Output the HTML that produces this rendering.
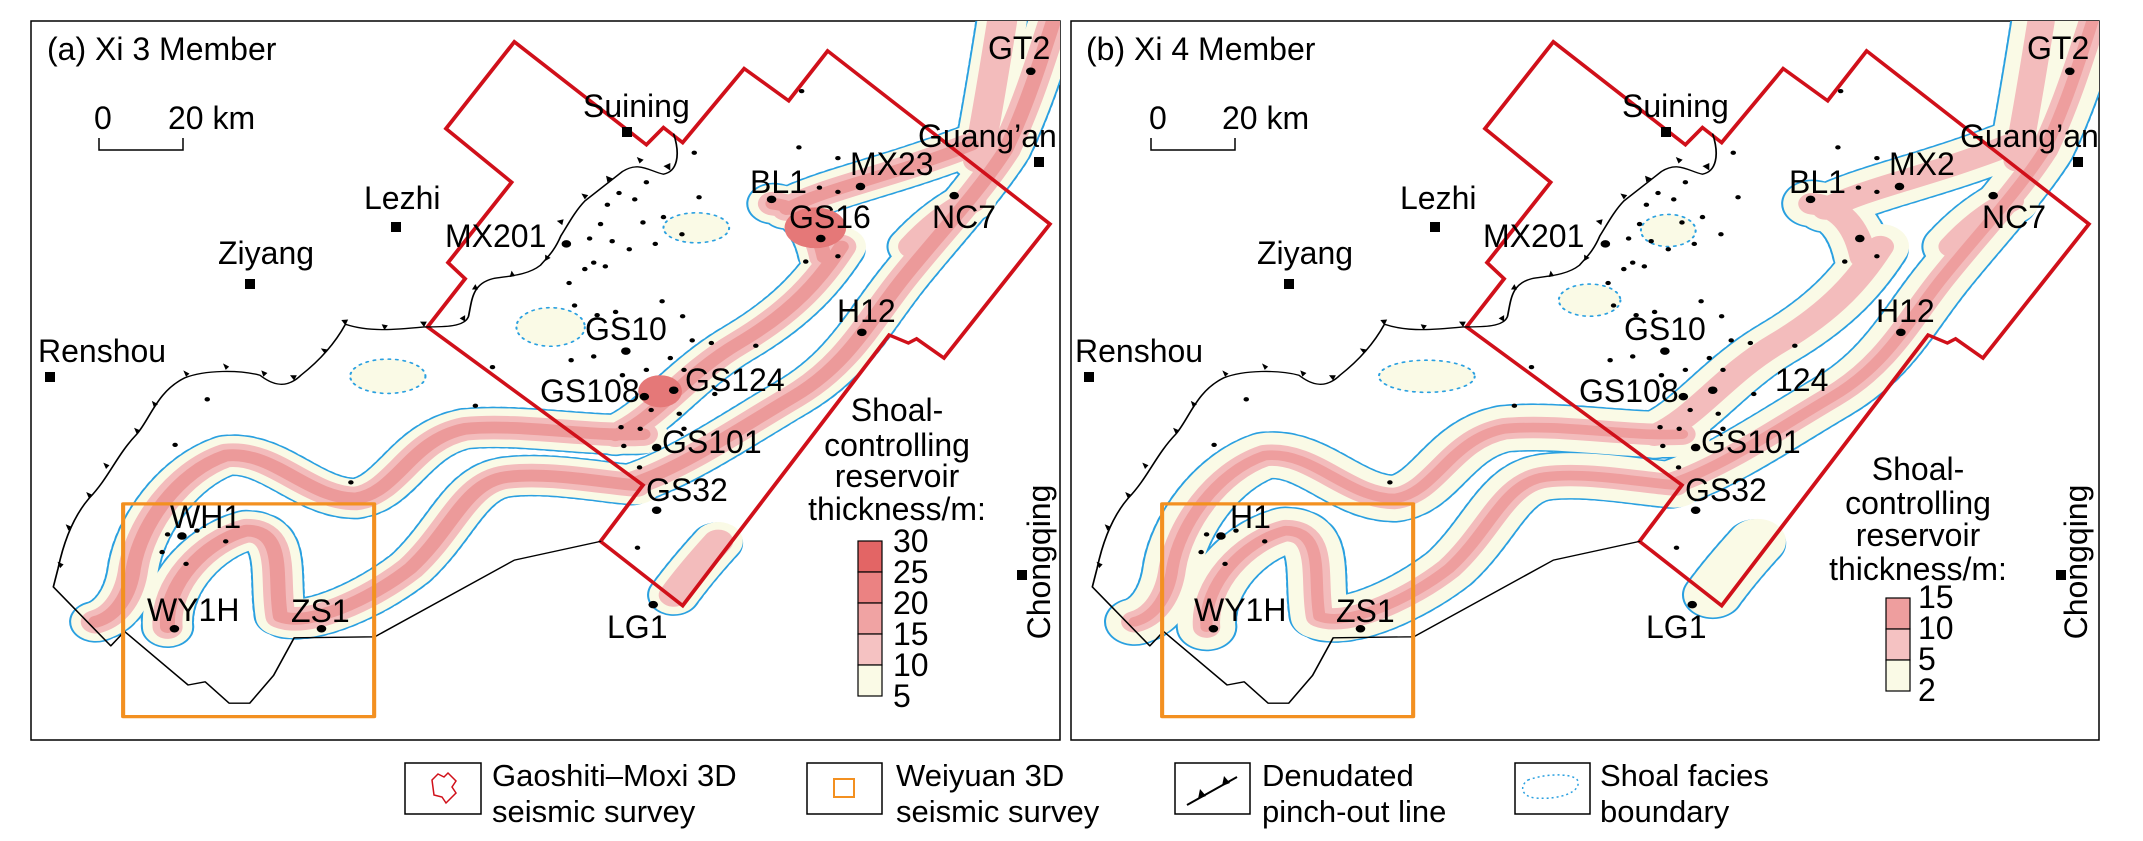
<!DOCTYPE html>
<html><head><meta charset="utf-8"><style>
html,body{margin:0;padding:0;background:#fff}
svg{display:block}
text{font-family:"Liberation Sans",Arial,sans-serif;fill:#000}
</style></head><body>
<svg width="2143" height="841" viewBox="0 0 2143 841" xmlns="http://www.w3.org/2000/svg">
<defs>
<clipPath id="ca"><rect x="31" y="21" width="1029" height="719"/></clipPath>
<clipPath id="cb"><rect x="1071" y="21" width="1028" height="719"/></clipPath>
<path id="pw1" d="M140,1160 C170,1150 190,1110 195,1060 C205,980 260,880 330,850 C400,840 450,930 520,930 C580,920 600,820 680,800 C760,790 860,815 940,810"/>
<path id="pg124" d="M900,812 C960,780 1000,700 1080,640 C1160,580 1200,520 1230,460"/>
<path id="pg16" d="M1130,380 C1170,385 1195,420 1205,480 M1150,390 C1210,350 1300,330 1420,270"/>
<path id="ph12" d="M930,900 C1000,870 1080,800 1160,740 C1240,680 1270,600 1320,520 C1370,440 1430,360 1470,280 C1500,200 1520,120 1540,40"/>
<path id="pgt" d="M1430,300 C1445,200 1455,120 1465,40"/>
<path id="pnc" d="M1335,460 C1360,425 1390,395 1420,375"/>
<path id="pw2" d="M245,1170 C240,1090 300,1010 360,990 C420,990 400,1080 410,1150 C450,1170 540,1120 600,1060 C660,990 680,900 740,890 C800,880 880,900 930,905"/>
<path id="plr" d="M985,1110 C1005,1075 1025,1045 1050,1010"/>
<g id="base">
<path d="M752,78 L945,270 L970,238 L998,266 L1088,128 L1153,188 L1210,95 L1535,418 L1380,668 L1340,632 L1328,640 L1300,625 L998,1130 L878,1010 L940,905 L625,610 L680,520 L655,490 L748,340 L652,240 Z" fill="none" stroke="#d0101a" stroke-width="6" stroke-linejoin="miter"/>
<path d="M985,250 C995,290 990,320 970,325 C950,320 935,300 910,320 C890,340 870,360 855,375 C840,395 830,420 820,440 C810,470 800,480 790,495 C770,515 740,515 720,520 C690,530 690,560 685,590 C680,610 650,610 620,610 C580,615 540,620 505,605 C490,640 470,670 440,700 C420,725 400,720 380,700 C350,690 300,690 270,705 C230,730 220,780 200,810 C170,850 160,890 130,930 C110,960 95,1000 85,1060 L78,1095 L162,1205 L182,1178 L275,1278 L300,1272 L335,1312 L365,1312 L400,1260 L430,1190 L548,1188 L752,1045 L878,1010" fill="none" stroke="#000" stroke-width="2.5"/>
<g fill="#000">
<path d="M980,318 l-10,-8 l10,-6z"/><path d="M935,305 l-4,-12 l10,5z"/><path d="M888,340 l-2,-12 l10,5z"/><path d="M855,372 l-5,-11 l10,3z"/><path d="M822,420 l-8,-8 l10,-3z"/><path d="M797,487 l0,-12 l8,6z"/><path d="M745,517 l3,-12 l5,10z"/><path d="M690,540 l5,-10 l4,10z"/><path d="M680,600 l-8,-6 l8,-6z"/><path d="M620,610 l-6,-10 l10,0z"/><path d="M562,616 l-4,-11 l9,2z"/><path d="M505,607 l-6,-10 l10,-1z"/><path d="M475,660 l-6,-10 l10,2z"/><path d="M430,710 l-6,-10 l10,0z"/><path d="M385,703 l-3,-12 l9,5z"/><path d="M330,690 l-4,-12 l9,6z"/><path d="M272,703 l-4,-12 l9,6z"/><path d="M225,760 l-3,-12 l9,6z"/><path d="M200,810 l-4,-12 l9,5z"/><path d="M155,875 l-4,-12 l9,5z"/><path d="M130,930 l-4,-12 l9,5z"/><path d="M100,990 l-4,-12 l9,5z"/><path d="M88,1060 l-4,-12 l9,5z"/>
</g>
<rect x="180" y="940" width="367" height="397" fill="none" stroke="#f39020" stroke-width="6"/>
<g fill="#000">
<circle cx="1172" cy="170" r="4"/><circle cx="1168" cy="275" r="4"/><circle cx="1225" cy="295" r="4"/><circle cx="1198" cy="350" r="4"/><circle cx="1225" cy="358" r="4"/><circle cx="1258" cy="348" r="7"/><circle cx="1128" cy="372" r="7"/><circle cx="1200" cy="445" r="7"/><circle cx="1178" cy="488" r="4"/><circle cx="1225" cy="478" r="4"/><circle cx="1395" cy="365" r="7"/><circle cx="1507" cy="133" r="7"/><circle cx="1260" cy="620" r="7"/><circle cx="1015" cy="285" r="4"/><circle cx="905" cy="360" r="4"/><circle cx="945" cy="340" r="4"/><circle cx="928" cy="372" r="4"/><circle cx="888" cy="382" r="4"/><circle cx="970" cy="405" r="4"/><circle cx="940" cy="415" r="4"/><circle cx="1022" cy="368" r="4"/><circle cx="997" cy="437" r="4"/><circle cx="878" cy="418" r="4"/><circle cx="862" cy="445" r="4"/><circle cx="895" cy="450" r="4"/><circle cx="958" cy="455" r="4"/><circle cx="920" cy="465" r="4"/><circle cx="828" cy="455" r="7"/><circle cx="855" cy="502" r="4"/><circle cx="868" cy="490" r="4"/><circle cx="885" cy="497" r="4"/><circle cx="832" cy="528" r="4"/><circle cx="968" cy="562" r="4"/><circle cx="840" cy="570" r="4"/><circle cx="900" cy="582" r="4"/><circle cx="998" cy="590" r="4"/><circle cx="873" cy="588" r="4"/><circle cx="915" cy="655" r="7"/><circle cx="835" cy="672" r="4"/><circle cx="868" cy="665" r="4"/><circle cx="980" cy="668" r="4"/><circle cx="1012" cy="635" r="4"/><circle cx="1040" cy="640" r="4"/><circle cx="1105" cy="645" r="4"/><circle cx="945" cy="690" r="4"/><circle cx="910" cy="700" r="4"/><circle cx="985" cy="728" r="7"/><circle cx="942" cy="740" r="7"/><circle cx="1000" cy="690" r="4"/><circle cx="1045" cy="735" r="4"/><circle cx="952" cy="765" r="4"/><circle cx="993" cy="772" r="4"/><circle cx="908" cy="797" r="4"/><circle cx="936" cy="800" r="4"/><circle cx="912" cy="832" r="4"/><circle cx="960" cy="835" r="7"/><circle cx="1000" cy="800" r="4"/><circle cx="935" cy="872" r="4"/><circle cx="960" cy="952" r="7"/><circle cx="932" cy="1022" r="4"/><circle cx="955" cy="1128" r="7"/><circle cx="720" cy="685" r="4"/><circle cx="695" cy="757" r="4"/><circle cx="303" cy="745" r="4"/><circle cx="256" cy="830" r="4"/><circle cx="513" cy="900" r="4"/><circle cx="266" cy="1000" r="7"/><circle cx="245" cy="997" r="4"/><circle cx="288" cy="990" r="4"/><circle cx="330" cy="1010" r="4"/><circle cx="237" cy="1030" r="4"/><circle cx="272" cy="1052" r="4"/><circle cx="255" cy="1173" r="7"/><circle cx="470" cy="1173" r="7"/>
</g>
</g>
</defs>

<rect x="31" y="21" width="1029" height="719" fill="#fff" stroke="#000" stroke-width="1.5"/>
<rect x="1071" y="21" width="1028" height="719" fill="#fff" stroke="#000" stroke-width="1.5"/>

<!-- Panel a facies -->
<g clip-path="url(#ca)"><g transform="scale(0.684,0.536)" fill="none" stroke-linecap="round" stroke-linejoin="round">
<g stroke="#2aa0e0" stroke-width="78" stroke-dasharray="3 11">
<use href="#pw1"/><use href="#pg124"/><use href="#pg16"/><use href="#ph12"/><use href="#pgt"/><use href="#pnc"/><use href="#pw2"/><use href="#plr"/>
</g>
<g stroke="#fafae6" stroke-width="72">
<use href="#pw1"/><use href="#pg124"/><use href="#pg16"/><use href="#ph12"/><use href="#pgt"/><use href="#pnc"/><use href="#pw2"/><use href="#plr"/>
</g>
<g fill="#fafae6" stroke="#2aa0e0" stroke-width="3" stroke-dasharray="3 8">
<ellipse cx="567" cy="702" rx="55" ry="32"/><ellipse cx="805" cy="610" rx="50" ry="36"/><ellipse cx="1018" cy="425" rx="48" ry="28"/>
</g>
<g stroke="#f3bcbc" stroke-width="44">
<use href="#pw1"/><use href="#pg124"/><use href="#pg16"/><use href="#ph12"/><use href="#pgt"/><use href="#pnc"/><use href="#pw2"/><use href="#plr"/>
</g>
<g stroke="#ec9a9a" stroke-width="22">
<use href="#pw1"/><use href="#pg124"/><use href="#pg16"/><use href="#ph12"/><use href="#pw2"/>
</g>
<ellipse cx="1192" cy="425" rx="45" ry="38" fill="#e57878" stroke="none"/>
<ellipse cx="965" cy="730" rx="32" ry="30" fill="#e57878" stroke="none"/>
<use href="#base"/>
</g></g>

<!-- Panel b facies -->
<g clip-path="url(#cb)"><g transform="translate(1039,0) scale(0.684,0.536)" fill="none" stroke-linecap="round" stroke-linejoin="round">
<g stroke="#2aa0e0" stroke-width="90" stroke-dasharray="3 11">
<use href="#pw1"/><use href="#pg124"/><use href="#pg16"/><use href="#ph12"/><use href="#pgt"/><use href="#pnc"/><use href="#pw2"/><use href="#plr"/>
</g>
<g stroke="#fafae6" stroke-width="84">
<use href="#pw1"/><use href="#pg124"/><use href="#pg16"/><use href="#ph12"/><use href="#pgt"/><use href="#pnc"/><use href="#pw2"/><use href="#plr"/>
</g>
<g fill="#fafae6" stroke="#2aa0e0" stroke-width="3" stroke-dasharray="3 8">
<ellipse cx="567" cy="702" rx="70" ry="30"/><ellipse cx="805" cy="560" rx="45" ry="30"/><ellipse cx="920" cy="430" rx="40" ry="30"/>
</g>
<g stroke="#f3bcbc" stroke-width="40">
<use href="#pw1"/><use href="#pg124"/><use href="#pg16"/><use href="#ph12"/><use href="#pgt"/><use href="#pnc"/><use href="#pw2"/>
</g>
<g stroke="#ee9e9e" stroke-width="18">
<use href="#pw1"/><use href="#ph12"/><use href="#pw2"/>
</g>
<use href="#base"/>
</g></g>

<!-- Panel a text -->
<g font-size="32">
<text x="47" y="60">(a) Xi 3 Member</text>
<text x="94" y="129">0</text><text x="168" y="129">20 km</text>
<text x="583" y="117">Suining</text>
<text x="918" y="147">Guang’an</text>
<text x="364" y="209">Lezhi</text>
<text x="218" y="264">Ziyang</text>
<text x="38" y="362">Renshou</text>
<text x="445" y="247">MX201</text>
<text x="750" y="193">BL1</text><text x="850" y="175">MX23</text><text x="789" y="228">GS16</text><text x="932" y="228">NC7</text><text x="988" y="59">GT2</text>
<text x="837" y="322">H12</text><text x="585" y="340">GS10</text><text x="540" y="402">GS108</text><text x="685" y="391">GS124</text><text x="662" y="453">GS101</text><text x="646" y="501">GS32</text><text x="607" y="638">LG1</text>
<text x="170" y="528">WH1</text><text x="147" y="621">WY1H</text><text x="291" y="622">ZS1</text>
<text transform="translate(1050,562) rotate(-90)" text-anchor="middle">Chongqing</text>
<g text-anchor="middle"><text x="897" y="421">Shoal-</text><text x="897" y="456">controlling</text><text x="897" y="487">reservoir</text><text x="897" y="520">thickness/m:</text></g>
<text x="893" y="552">30</text><text x="893" y="583">25</text><text x="893" y="614">20</text><text x="893" y="645">15</text><text x="893" y="676">10</text><text x="893" y="707">5</text>
</g>
<path d="M99,138 V150 H183 V138" fill="none" stroke="#000" stroke-width="1.5"/>
<g fill="#000">
<rect x="622" y="127" width="10" height="10"/><rect x="1034" y="157" width="10" height="10"/><rect x="391" y="222" width="10" height="10"/><rect x="245" y="279" width="10" height="10"/><rect x="45" y="372" width="10" height="10"/><rect x="1017" y="570" width="10" height="10"/>
</g>
<g stroke="#000" stroke-width="1.2">
<rect x="858" y="541" width="24" height="31" fill="#e36565"/><rect x="858" y="572" width="24" height="31" fill="#eb8282"/><rect x="858" y="603" width="24" height="31" fill="#f0a3a3"/><rect x="858" y="634" width="24" height="31" fill="#f5c2c2"/><rect x="858" y="665" width="24" height="31" fill="#fafae6"/>
</g>

<!-- Panel b text -->
<g font-size="32">
<text x="1086" y="60">(b) Xi 4 Member</text>
<text x="1149" y="129">0</text><text x="1222" y="129">20 km</text>
<text x="1622" y="117">Suining</text>
<text x="1960" y="147">Guang’an</text>
<text x="1400" y="209">Lezhi</text>
<text x="1257" y="264">Ziyang</text>
<text x="1075" y="362">Renshou</text>
<text x="1483" y="247">MX201</text>
<text x="1789" y="193">BL1</text><text x="1889" y="175">MX2</text><text x="1982" y="228">NC7</text><text x="2027" y="59">GT2</text>
<text x="1876" y="322">H12</text><text x="1624" y="340">GS10</text><text x="1579" y="402">GS108</text><text x="1775" y="391">124</text><text x="1701" y="453">GS101</text><text x="1685" y="501">GS32</text><text x="1646" y="638">LG1</text>
<text x="1230" y="528">H1</text><text x="1194" y="621">WY1H</text><text x="1336" y="622">ZS1</text>
<text transform="translate(2087,562) rotate(-90)" text-anchor="middle">Chongqing</text>
<g text-anchor="middle"><text x="1918" y="480">Shoal-</text><text x="1918" y="514">controlling</text><text x="1918" y="546">reservoir</text><text x="1918" y="580">thickness/m:</text></g>
<text x="1918" y="608">15</text><text x="1918" y="639">10</text><text x="1918" y="670">5</text><text x="1918" y="701">2</text>
</g>
<path d="M1151,138 V150 H1235 V138" fill="none" stroke="#000" stroke-width="1.5"/>
<g fill="#000">
<rect x="1661" y="127" width="10" height="10"/><rect x="2073" y="157" width="10" height="10"/><rect x="1430" y="222" width="10" height="10"/><rect x="1284" y="279" width="10" height="10"/><rect x="1084" y="372" width="10" height="10"/><rect x="2056" y="570" width="10" height="10"/>
</g>
<g stroke="#000" stroke-width="1.2">
<rect x="1886" y="598" width="24" height="31" fill="#ee9e9e"/><rect x="1886" y="629" width="24" height="31" fill="#f5c2c2"/><rect x="1886" y="660" width="24" height="31" fill="#fafae6"/>
</g>

<!-- Bottom legend -->
<g stroke="#000" stroke-width="1.5" fill="#fff">
<rect x="405" y="763" width="76" height="51"/><rect x="807" y="763" width="75" height="51"/><rect x="1175" y="763" width="75" height="51"/><rect x="1515" y="763" width="75" height="51"/>
</g>
<path d="M432,780 l6,-6 l6,3 l4,-4 l8,8 l-4,6 l4,6 l-10,10 l-4,-6 l-8,-2 z" fill="none" stroke="#d0101a" stroke-width="1.5"/>
<rect x="834" y="779" width="20" height="18" fill="none" stroke="#f39020" stroke-width="2"/>
<path d="M1187,805 L1237,777" stroke="#000" stroke-width="2"/>
<path d="M1198,799 l2,-10 l6,7z M1222,786 l2,-10 l6,7z" fill="#000"/>
<path d="M1528,780 C1550,772 1578,774 1578,782 C1580,792 1560,800 1535,798 C1520,796 1520,785 1528,780z" fill="none" stroke="#2aa0e0" stroke-width="1.5" stroke-dasharray="2 3"/>
<g font-size="31">
<text x="492" y="786">Gaoshiti–Moxi 3D</text><text x="492" y="822">seismic survey</text>
<text x="896" y="786">Weiyuan 3D</text><text x="896" y="822">seismic survey</text>
<text x="1262" y="786">Denudated</text><text x="1262" y="822">pinch-out line</text>
<text x="1600" y="786">Shoal facies</text><text x="1600" y="822">boundary</text>
</g>
</svg>
</body></html>
